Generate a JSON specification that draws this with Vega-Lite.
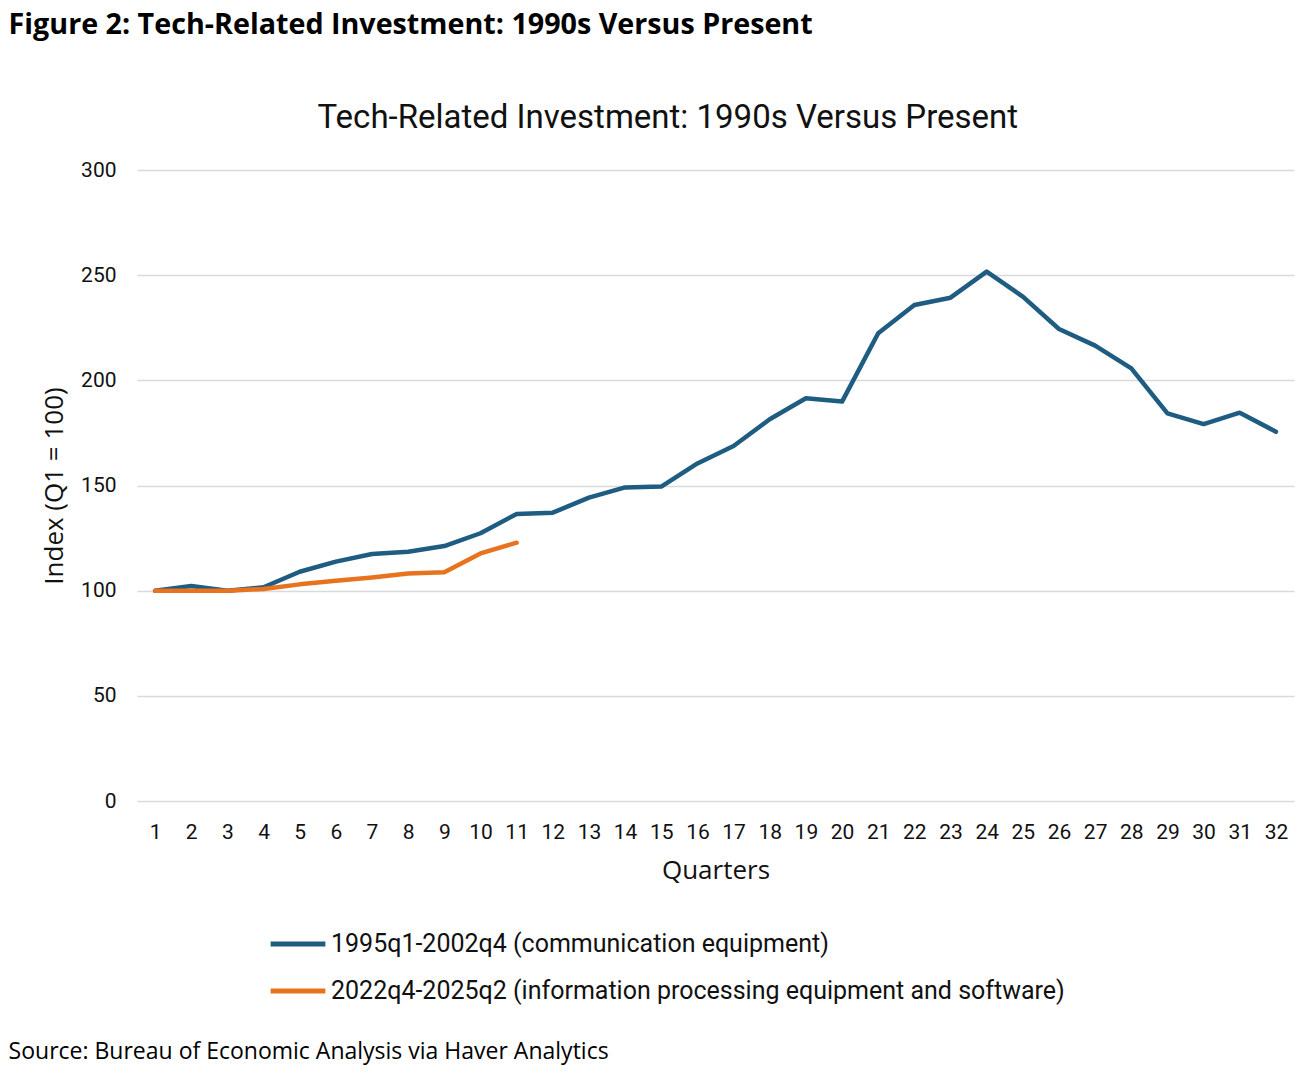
{
  "$schema": "https://vega.github.io/schema/vega-lite/v6.json",
  "background": "white",
  "padding": {"left": 8, "top": 11, "right": 12, "bottom": 10},
  "title": {"text": "Figure 2: Tech-Related Investment: 1990s Versus Present", "anchor": "start", "frame": "bounds", "font": "Open Sans", "fontSize": 28.7, "fontWeight": "bold", "color": "#000000", "dx": 0, "offset": 62},
  "config": {"view": {"stroke": null}, "concat": {"spacing": 0}},
  "resolve": {"legend": {"color": "independent"}},
  "vconcat": [
    {
      "title": {"text": "Source: Bureau of Economic Analysis via Haver Analytics", "orient": "bottom", "anchor": "start", "frame": "bounds", "font": "Open Sans", "fontSize": 23, "fontWeight": "normal", "color": "#000000", "dx": -33, "offset": 37},
      "resolve": {"legend": {"color": "independent"}},
      "vconcat": [
        {
          "title": {"text": "Tech-Related Investment: 1990s Versus Present", "anchor": "middle", "frame": "bounds", "font": "Roboto", "fontSize": 33, "fontWeight": "normal", "color": "#111111", "offset": 24},
          "width": 1157,
          "height": 631,
          "data": {"values": [
            {"q": 1, "s": "1995q1-2002q4 (communication equipment)", "v": 100},
            {"q": 2, "s": "1995q1-2002q4 (communication equipment)", "v": 102.2},
            {"q": 3, "s": "1995q1-2002q4 (communication equipment)", "v": 100},
            {"q": 4, "s": "1995q1-2002q4 (communication equipment)", "v": 101.6},
            {"q": 5, "s": "1995q1-2002q4 (communication equipment)", "v": 109},
            {"q": 6, "s": "1995q1-2002q4 (communication equipment)", "v": 113.8},
            {"q": 7, "s": "1995q1-2002q4 (communication equipment)", "v": 117.4},
            {"q": 8, "s": "1995q1-2002q4 (communication equipment)", "v": 118.5},
            {"q": 9, "s": "1995q1-2002q4 (communication equipment)", "v": 121.2},
            {"q": 10, "s": "1995q1-2002q4 (communication equipment)", "v": 127.3},
            {"q": 11, "s": "1995q1-2002q4 (communication equipment)", "v": 136.5},
            {"q": 12, "s": "1995q1-2002q4 (communication equipment)", "v": 137.1},
            {"q": 13, "s": "1995q1-2002q4 (communication equipment)", "v": 144.2},
            {"q": 14, "s": "1995q1-2002q4 (communication equipment)", "v": 149.1},
            {"q": 15, "s": "1995q1-2002q4 (communication equipment)", "v": 149.5},
            {"q": 16, "s": "1995q1-2002q4 (communication equipment)", "v": 160.5},
            {"q": 17, "s": "1995q1-2002q4 (communication equipment)", "v": 168.8},
            {"q": 18, "s": "1995q1-2002q4 (communication equipment)", "v": 181.5},
            {"q": 19, "s": "1995q1-2002q4 (communication equipment)", "v": 191.5},
            {"q": 20, "s": "1995q1-2002q4 (communication equipment)", "v": 189.9},
            {"q": 21, "s": "1995q1-2002q4 (communication equipment)", "v": 222.4},
            {"q": 22, "s": "1995q1-2002q4 (communication equipment)", "v": 235.8},
            {"q": 23, "s": "1995q1-2002q4 (communication equipment)", "v": 239.3},
            {"q": 24, "s": "1995q1-2002q4 (communication equipment)", "v": 251.7},
            {"q": 25, "s": "1995q1-2002q4 (communication equipment)", "v": 239.8},
            {"q": 26, "s": "1995q1-2002q4 (communication equipment)", "v": 224.4},
            {"q": 27, "s": "1995q1-2002q4 (communication equipment)", "v": 216.5},
            {"q": 28, "s": "1995q1-2002q4 (communication equipment)", "v": 205.7},
            {"q": 29, "s": "1995q1-2002q4 (communication equipment)", "v": 184.3},
            {"q": 30, "s": "1995q1-2002q4 (communication equipment)", "v": 179.2},
            {"q": 31, "s": "1995q1-2002q4 (communication equipment)", "v": 184.6},
            {"q": 32, "s": "1995q1-2002q4 (communication equipment)", "v": 175.6},
            {"q": 1, "s": "2022q4-2025q2 (information processing equipment and software)", "v": 100},
            {"q": 2, "s": "2022q4-2025q2 (information processing equipment and software)", "v": 100},
            {"q": 3, "s": "2022q4-2025q2 (information processing equipment and software)", "v": 100},
            {"q": 4, "s": "2022q4-2025q2 (information processing equipment and software)", "v": 100.8},
            {"q": 5, "s": "2022q4-2025q2 (information processing equipment and software)", "v": 103},
            {"q": 6, "s": "2022q4-2025q2 (information processing equipment and software)", "v": 104.7},
            {"q": 7, "s": "2022q4-2025q2 (information processing equipment and software)", "v": 106.3},
            {"q": 8, "s": "2022q4-2025q2 (information processing equipment and software)", "v": 108.2},
            {"q": 9, "s": "2022q4-2025q2 (information processing equipment and software)", "v": 108.8},
            {"q": 10, "s": "2022q4-2025q2 (information processing equipment and software)", "v": 117.7},
            {"q": 11, "s": "2022q4-2025q2 (information processing equipment and software)", "v": 122.8}
          ]},
          "mark": {"type": "line", "strokeWidth": 4.5, "strokeJoin": "round", "strokeCap": "round"},
          "encoding": {
            "x": {"field": "q", "type": "quantitative", "scale": {"domain": [0.5, 32.5], "nice": false, "zero": false},
              "axis": {"values": [1,2,3,4,5,6,7,8,9,10,11,12,13,14,15,16,17,18,19,20,21,22,23,24,25,26,27,28,29,30,31,32], "format": "d", "grid": false, "domain": false, "ticks": false, "labelPadding": 20, "labelFont": "Roboto", "labelFontSize": 21, "labelColor": "#111111", "title": "Quarters", "titleFont": "Open Sans", "titleFontSize": 26, "titleFontWeight": "normal", "titleColor": "#111111", "titlePadding": 15}},
            "y": {"field": "v", "type": "quantitative", "scale": {"domain": [0, 300], "nice": false},
              "axis": {"values": [0,50,100,150,200,250,300], "grid": true, "gridColor": "#d9d9d9", "gridWidth": 1.5, "domain": false, "ticks": false, "labelPadding": 21, "labelFont": "Roboto", "labelFontSize": 21, "labelColor": "#111111", "title": "Index (Q1 = 100)", "titleFont": "Open Sans", "titleFontSize": 26, "titleFontWeight": "normal", "titleColor": "#111111", "titlePadding": 13}},
            "color": {"field": "s", "type": "nominal",
              "scale": {"domain": ["1995q1-2002q4 (communication equipment)", "2022q4-2025q2 (information processing equipment and software)"], "range": ["#1F5C82", "#E8731E"]},
              "legend": {"orient": "none", "legendX": 131, "legendY": 744, "direction": "vertical", "title": null, "symbolType": "stroke", "symbolSize": 3000, "symbolStrokeWidth": 5, "labelFont": "Roboto", "labelFontSize": 25, "labelColor": "#111111", "labelOffset": 3, "rowPadding": 4, "labelLimit": 0}}
          }
        }
      ]
    }
  ]
}
